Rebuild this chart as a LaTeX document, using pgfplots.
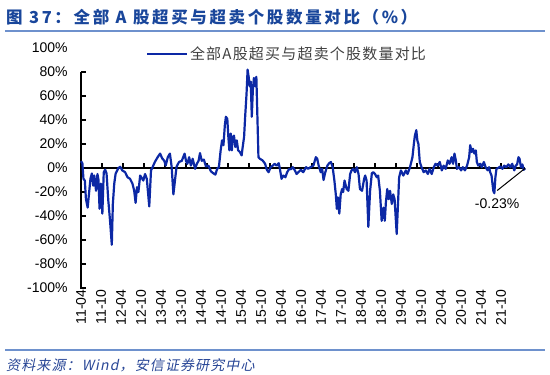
\documentclass[border=0pt]{standalone}
\usepackage{pgfplots}
\pgfplotsset{compat=1.18}
\usepackage{pgfplotstable}
\usepackage{fontspec}
\setmainfont{Liberation Sans}
\newfontfamily\cjk{Noto Sans CJK SC}
\newfontfamily\cjkit{Noto Sans CJK SC}[FakeSlant=0.2]
\definecolor{serie}{RGB}{12,40,165}
\definecolor{titleblue}{RGB}{25,70,155}
\definecolor{rule}{RGB}{110,145,205}
\definecolor{srcblue}{RGB}{40,70,150}
\pgfplotstableread{
m v
0 5.7
0.4 3.8
0.7 -9
1.1 -10.5
1.4 -25.6
1.9 -33
2.3 -21
2.7 -9
3.1 -4.6
3.5 -14.7
3.8 -6.3
4.3 -19
4.7 -5
5.0 -10
5.3 -34
5.7 -13
6.1 -38
6.5 -3.5
6.9 -1.3
7.3 -4.6
7.8 -27
8.3 -44
8.8 -64
9.1 -30
9.5 -13
9.9 -4.6
10.7 0
11.2 1
11.8 -2
12.6 -3.5
13.3 -7.7
14.0 -9
14.7 -13
15.2 -19
15.6 -29
16.0 -16
16.4 -20
16.9 -6.3
17.3 -8
17.8 -10.5
18.3 -5
18.8 -9
19.2 -22
19.5 -32
20.0 -2
20.5 1
21.1 5
21.9 9
22.6 12
23.2 8
23.8 6
24.2 2
24.8 9
25.4 12
25.9 1
26.4 -22
26.9 -9
27.3 1
28.0 5
28.8 6
29.6 12
30.0 6
30.4 3.5
30.9 9
31.4 2
31.9 7.7
32.6 -0.7
33.1 3.5
33.6 6
34.0 12.4
34.5 6
35.1 7
35.7 1.3
36.4 2
37.1 -2.7
37.8 -4.4
38.4 -5.5
38.9 -0.7
39.4 0.7
39.9 14.7
40.3 23
40.7 19
41.1 35.7
41.4 42.7
41.8 41
42.1 26
42.4 14.7
42.8 28.7
43.1 14.7
43.3 24.5
43.7 27
44.1 17.5
44.5 23
44.9 14.7
45.4 13.3
45.9 10.5
46.2 17.5
46.6 26
46.9 42.7
47.3 62
47.6 82
47.9 76
48.2 68
48.5 72
48.8 42.7
49.1 65
49.4 75
49.8 68
50.1 76
50.4 42.7
50.7 9
51.1 7.7
51.9 6.3
52.6 3.5
53.1 -1.5
53.6 -3.5
54.2 0.7
54.8 2
55.3 3.5
55.9 2
56.5 4
56.9 -2
57.3 -9
57.8 -6.3
58.4 -7.7
58.9 -3.5
59.5 -0.7
60.0 -1
60.5 0.7
61.1 -2
61.6 -5
62.1 -3.5
62.8 -1.5
63.5 -3.5
64.3 0.7
64.9 -0.7
65.6 0.7
66.4 2
67.1 9
67.5 7.7
67.9 2
68.5 -3.5
68.9 -0.7
69.3 -10
69.8 -3.5
70.4 2
70.9 4
71.4 5
71.9 0.7
72.4 -10.5
72.8 -22
73.1 -34
73.4 -24.5
73.8 -38
74.2 -22
74.6 -17.5
74.9 -20
75.3 -10.5
75.9 -17.5
76.4 -19
76.9 -5
77.3 -2
77.8 -0.7
78.3 -3.5
78.8 0.7
79.3 -5
79.7 -17.5
80.3 -19
80.9 -9
81.2 -6.3
81.6 -10.5
82.1 -49
82.6 -19
83.1 -4.4
83.5 -3.5
84.0 -5
84.5 -7.7
84.9 -6.3
85.4 -19
85.9 -44
86.4 -33
86.8 -44
87.1 -29
87.5 -17.5
87.9 -26
88.3 -19
88.8 -30
89.2 -22
89.6 -26
90.2 -55
90.9 -7.7
91.4 -2
92.1 -6.3
92.8 -2
93.3 -5
94.0 0.7
94.7 9
95.1 20
95.4 27
95.8 31.5
96.1 23
96.4 20
96.8 5
97.3 0.7
97.9 -3.5
98.5 -2
99.1 -5
99.6 -0.7
100.2 -5
100.8 0.7
101.3 3.5
101.9 2
102.5 5
103.1 -2
103.6 2
104.2 -0.7
104.8 6.3
105.3 3.5
105.9 9
106.3 3.5
106.7 12
107.1 6.3
107.4 -0.7
108.0 0.7
108.6 -2
109.1 0.7
109.7 -2
110.3 2
110.9 9
111.2 19
111.6 13.3
112.0 16
112.4 12
112.8 14.7
113.1 5
113.5 2
114.1 3.5
114.5 0.7
115.1 5
115.6 0.7
116.2 -2
116.6 0.7
116.9 -3.5
117.3 -6.3
117.8 -19
118.1 -21
118.4 -7.7
118.7 -0.7
119.2 0
119.8 1.3
120.4 -0.7
120.9 2
121.5 0.7
122.1 3
122.7 0.7
123.2 3.5
123.8 -2
124.2 2
124.6 3
125.0 9
125.3 7.7
125.7 0.7
126.1 3
126.5 -1.5
126.9 -0.23
}\ratio
\begin{document}
\begin{tikzpicture}
\useasboundingbox (0pt,0pt) rectangle (550pt,375pt);
% title
\node[anchor=west, inner sep=0pt, text=titleblue] at (6pt,358pt) {\cjk\bfseries\fontsize{16.5}{16.5}\selectfont\addfontfeature{LetterSpace=16} 图 37：全部 A 股超买与超卖个股数量对比（\%）};
\draw[rule, line width=1.2pt] (5pt,344pt) -- (545pt,344pt);
\draw[rule, line width=1.2pt] (5pt,25pt) -- (545pt,25pt);
\node[anchor=west, inner sep=0pt, text=srcblue] at (6pt,10pt) {\cjkit\fontsize{14}{14}\selectfont\addfontfeature{LetterSpace=8} 资料来源：\itshape Wind\upshape，安信证券研究中心};
\begin{axis}[
  at={(76.8pt,87pt)}, anchor=south west,
  scale only axis, width=448.35pt, height=240pt,
  xmin=-1.2, xmax=126.9, ymin=-100, ymax=100,
  clip=false,
  axis line style={draw=none},
  tick style={draw=none},
  xtick={-1.14,4.57,10.29,16.0,21.71,27.43,33.14,38.86,44.57,50.29,56.0,61.71,67.43,73.14,78.86,84.57,90.29,96.0,101.71,107.43,113.14,118.86},
  xticklabels={11-04,11-10,12-04,12-10,13-04,13-10,14-04,14-10,15-04,15-10,16-04,16-10,17-04,17-10,18-04,18-10,19-04,19-10,20-04,20-10,21-04,21-10},
  xticklabel style={rotate=90, anchor=east, font=\fontsize{14}{14}\selectfont, xshift=-1.5pt, yshift=-4pt, inner sep=0pt},
  ytick={-100,-80,...,100},
  yticklabels={-100\%,-80\%,-60\%,-40\%,-20\%,0\%,20\%,40\%,60\%,80\%,100\%},
  yticklabel style={font=\fontsize{14}{14}\selectfont, anchor=east, inner sep=0pt, xshift=-9pt},
  legend style={at={(0.154,0.975)}, anchor=west, draw=none, fill=none, inner sep=0pt,
    font=\cjk\fontsize{15}{15}\selectfont\addfontfeature{LetterSpace=8}, text=black!75},
  legend image code/.code={\draw[#1, line width=2pt] (0pt,0pt) -- (40pt,0pt);},
]
\draw[black, line width=1.2pt] (axis cs:0,80) -- (axis cs:0,-100) -- ([xshift=5pt]axis cs:0,-100);
\pgfplotsinvokeforeach{-80,-60,...,80}{\draw[black, line width=1.2pt] (axis cs:0,#1) -- ([xshift=5pt]axis cs:0,#1);}
\draw[black, line width=1.2pt] (axis cs:0,0) -- (axis cs:126.9,0);
\pgfplotsinvokeforeach{6,12,...,120}{\draw[black, line width=1.2pt] (axis cs:#1,0) -- ([yshift=5pt]axis cs:#1,0);}
\addplot[serie, line width=2.2pt, line join=round] table[x=m, y=v] {\ratio};
\addlegendentry{全部A股超买与超卖个股数量对比}
\draw[black, line width=1pt] (axis cs:126.9,-0.23) -- (axis cs:118.9,-18.8);
\node[font=\fontsize{14}{14}\selectfont] at (axis cs:118.9,-30) {-0.23\%};
\end{axis}
\end{tikzpicture}
\end{document}
